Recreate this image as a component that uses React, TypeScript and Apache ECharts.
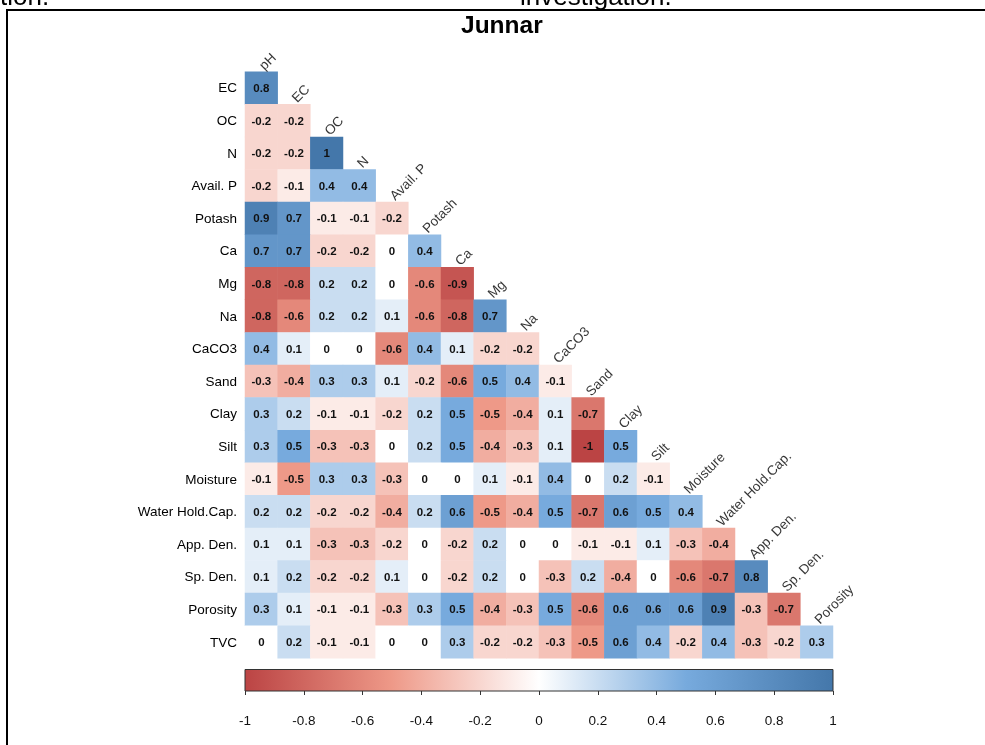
import React, { useEffect, useRef } from "react";
import * as echarts from "echarts";

const columns = ["pH", "EC", "OC", "N", "Avail. P", "Potash", "Ca", "Mg", "Na", "CaCO3", "Sand", "Clay", "Silt", "Moisture", "Water Hold.Cap.", "App. Den.", "Sp. Den.", "Porosity"];
const rows = ["EC", "OC", "N", "Avail. P", "Potash", "Ca", "Mg", "Na", "CaCO3", "Sand", "Clay", "Silt", "Moisture", "Water Hold.Cap.", "App. Den.", "Sp. Den.", "Porosity", "TVC"];

const rowEC = [0.8];
const rowOC = [-0.2, -0.2];
const rowN = [-0.2, -0.2, 1];
const rowAvailP = [-0.2, -0.1, 0.4, 0.4];
const rowPotash = [0.9, 0.7, -0.1, -0.1, -0.2];
const rowCa = [0.7, 0.7, -0.2, -0.2, 0, 0.4];
const rowMg = [-0.8, -0.8, 0.2, 0.2, 0, -0.6, -0.9];
const rowNa = [-0.8, -0.6, 0.2, 0.2, 0.1, -0.6, -0.8, 0.7];
const rowCaCO3 = [0.4, 0.1, 0, 0, -0.6, 0.4, 0.1, -0.2, -0.2];
const rowSand = [-0.3, -0.4, 0.3, 0.3, 0.1, -0.2, -0.6, 0.5, 0.4, -0.1];
const rowClay = [0.3, 0.2, -0.1, -0.1, -0.2, 0.2, 0.5, -0.5, -0.4, 0.1, -0.7];
const rowSilt = [0.3, 0.5, -0.3, -0.3, 0, 0.2, 0.5, -0.4, -0.3, 0.1, -1, 0.5];
const rowMoisture = [-0.1, -0.5, 0.3, 0.3, -0.3, 0, 0, 0.1, -0.1, 0.4, 0, 0.2, -0.1];
const rowWHC = [0.2, 0.2, -0.2, -0.2, -0.4, 0.2, 0.6, -0.5, -0.4, 0.5, -0.7, 0.6, 0.5, 0.4];
const rowAppDen = [0.1, 0.1, -0.3, -0.3, -0.2, 0, -0.2, 0.2, 0, 0, -0.1, -0.1, 0.1, -0.3, -0.4];
const rowSpDen = [0.1, 0.2, -0.2, -0.2, 0.1, 0, -0.2, 0.2, 0, -0.3, 0.2, -0.4, 0, -0.6, -0.7, 0.8];
const rowPorosity = [0.3, 0.1, -0.1, -0.1, -0.3, 0.3, 0.5, -0.4, -0.3, 0.5, -0.6, 0.6, 0.6, 0.6, 0.9, -0.3, -0.7];
const rowTVC = [0, 0.2, -0.1, -0.1, 0, 0, 0.3, -0.2, -0.2, -0.3, -0.5, 0.6, 0.4, -0.2, 0.4, -0.3, -0.2, 0.3];

const matrix = [rowEC, rowOC, rowN, rowAvailP, rowPotash, rowCa, rowMg, rowNa, rowCaCO3, rowSand, rowClay, rowSilt, rowMoisture, rowWHC, rowAppDen, rowSpDen, rowPorosity, rowTVC];

const paletteColors = ["#BB4444", "#EE9988", "#FFFFFF", "#77AADD", "#4477AA"];
const FONT = "'Liberation Sans', Arial, sans-serif";

export default function App() {
  const ref = useRef<HTMLDivElement>(null);
  useEffect(() => {
    if (!ref.current) return;
    const chart = echarts.init(ref.current, null, { renderer: "svg" });
    const heatData: any[] = [];
    matrix.forEach((vals, i) => vals.forEach((v, j) => heatData.push([j, i, v])));
    const labelData = columns.map((_, j) => [j, j]);
    const gradient = {
      type: "linear", x: 0, y: 0, x2: 1, y2: 0,
      colorStops: paletteColors.map((c, k) => ({ offset: k / (paletteColors.length - 1), color: c })),
    };
    chart.setOption({
      animation: false,
      textStyle: { fontFamily: FONT },
      title: {
        text: "Junnar", left: 461, top: 12, padding: 0,
        textStyle: { fontSize: 24.5, fontWeight: "bold", color: "#000", fontFamily: FONT },
      },
      grid: [
        { left: 245, top: 71.7, width: 588, height: 586.6 },
        { left: 245, top: 669.5, width: 588, height: 21.5, show: true, borderColor: "#333", borderWidth: 1, backgroundColor: gradient },
      ],
      xAxis: [
        { type: "category", data: columns, gridIndex: 0, axisLine: { show: false }, axisTick: { show: false }, axisLabel: { show: false }, splitLine: { show: false } },
        {
          type: "value", gridIndex: 1, min: -1, max: 1, interval: 0.2, position: "bottom",
          axisLine: { show: false }, splitLine: { show: false },
          axisTick: { show: true, length: 4, lineStyle: { color: "#333" } },
          axisLabel: { fontSize: 13.5, color: "#111", margin: 22, fontFamily: FONT },
        },
      ],
      yAxis: [
        {
          type: "category", data: rows, inverse: true, gridIndex: 0,
          axisLine: { show: false }, axisTick: { show: false }, splitLine: { show: false },
          axisLabel: { fontSize: 13.5, color: "#000", margin: 8, fontFamily: FONT },
        },
        { type: "value", gridIndex: 1, min: 0, max: 1, show: false },
      ],
      visualMap: {
        type: "continuous", min: -1, max: 1, show: false, seriesIndex: 0,
        inRange: { color: paletteColors },
      },
      series: [
        {
          type: "heatmap", xAxisIndex: 0, yAxisIndex: 0, data: heatData,
          itemStyle: { borderWidth: 0 },
          emphasis: { disabled: true },
          label: {
            show: true, fontSize: 11.5, fontWeight: "bold", color: "#111", fontFamily: FONT,
            formatter: (p: any) => String(p.data[2]),
          },
        },
        {
          type: "scatter", xAxisIndex: 0, yAxisIndex: 0, data: labelData,
          symbolSize: 1, itemStyle: { color: "rgba(0,0,0,0)" }, silent: true,
          label: {
            show: true, position: "inside", rotate: 45, align: "left", verticalAlign: "bottom",
            offset: [14.5, -7.4], fontSize: 13.5, color: "#000", fontFamily: FONT,
            formatter: (p: any) => columns[p.data[0]],
          },
        },
      ],
      graphic: [
        { type: "line", shape: { x1: 6, y1: 10, x2: 985, y2: 10 }, style: { stroke: "#000", lineWidth: 2 } },
        { type: "line", shape: { x1: 7, y1: 9, x2: 7, y2: 745 }, style: { stroke: "#000", lineWidth: 2 } },
        { type: "text", x: 0, y: -4, style: { text: "tion.", font: `26px ${FONT}`, fill: "#000", verticalAlign: "middle" } },
        { type: "text", x: 520, y: -4, style: { text: "investigation.", font: `26px ${FONT}`, fill: "#000", verticalAlign: "middle" } },
      ],
    });
    return () => chart.dispose();
  }, []);
  return <div ref={ref} style={{ position: "fixed", left: 0, top: 0, width: 985, height: 745 }} />;
}
